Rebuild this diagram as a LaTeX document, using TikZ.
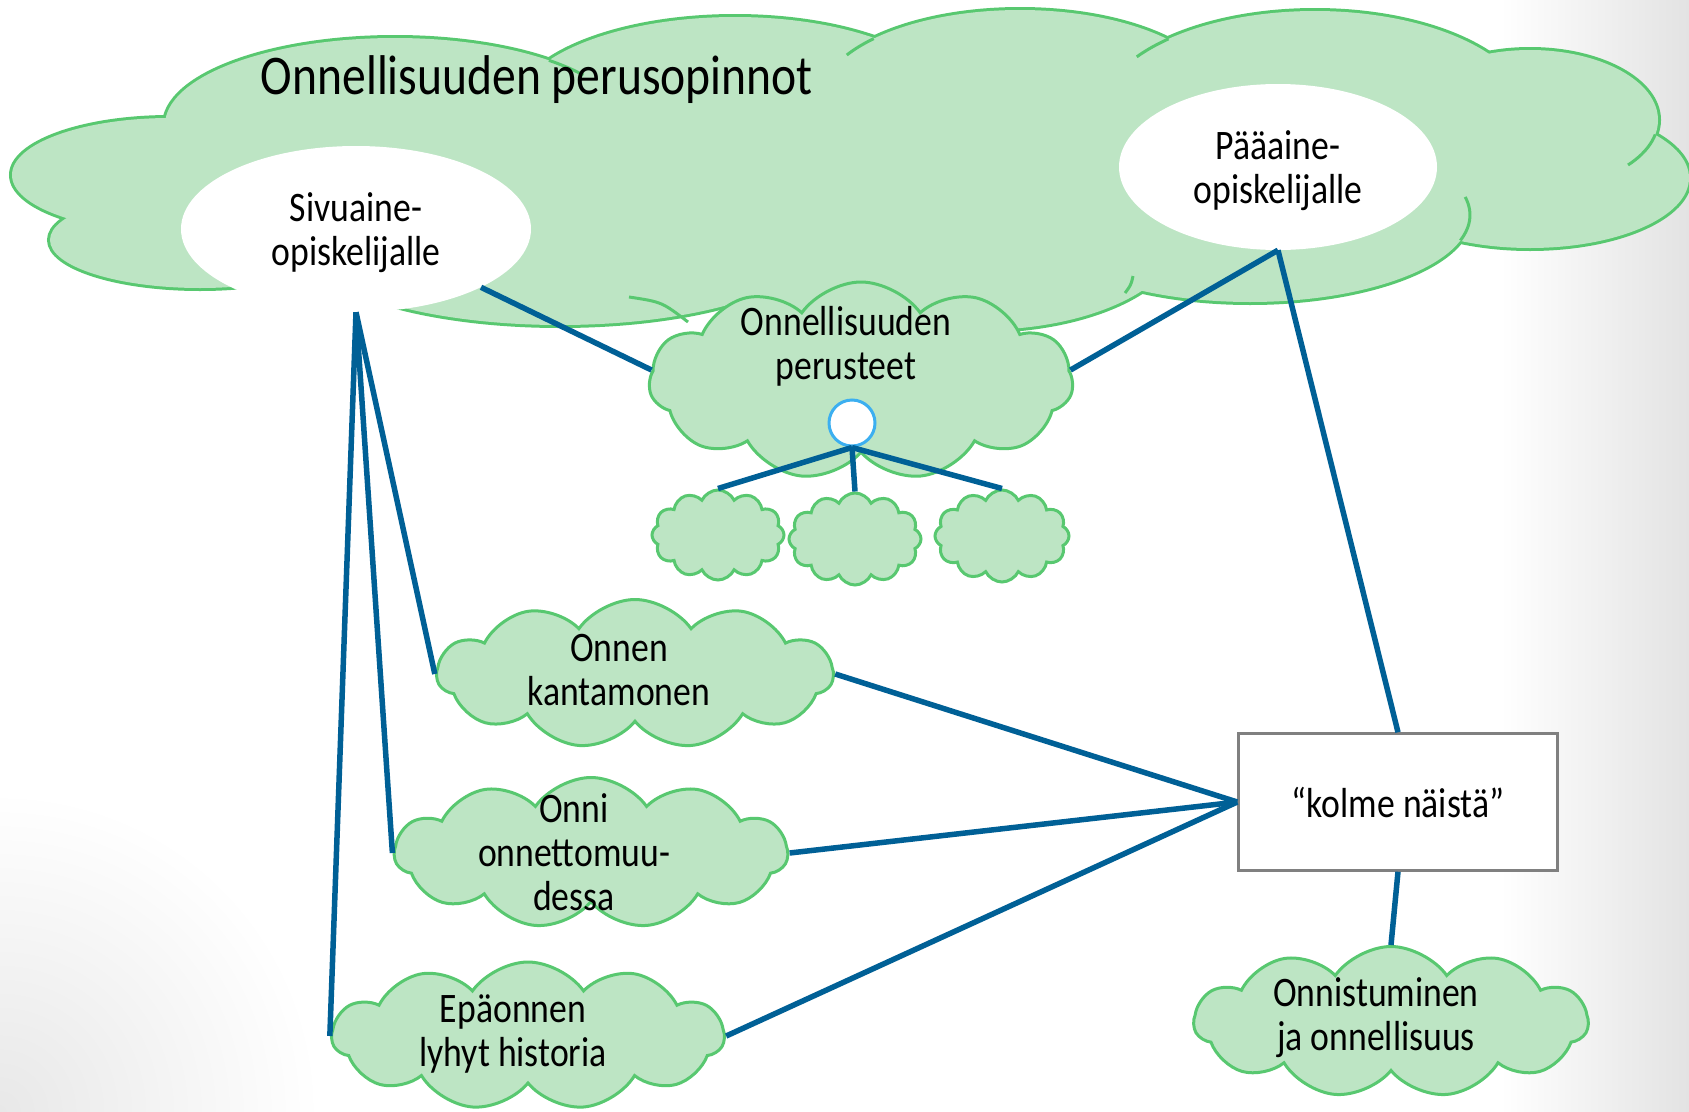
\documentclass[tikz,border=0pt]{standalone}
\usepackage{fontspec}
\setmainfont{Carlito}[FakeStretch=0.85]
\usetikzlibrary{shapes.symbols,shapes.geometric}
\definecolor{cloudfill}{RGB}{189,229,196}
\definecolor{cloudline}{RGB}{88,200,112}
\definecolor{linkblue}{RGB}{0,96,150}
\definecolor{hubline}{RGB}{60,175,240}
\definecolor{boxline}{RGB}{128,128,128}
\newcommand{\bodyfont}{\fontsize{42}{44}\selectfont}
\newcommand{\titlefont}{\fontsize{56}{60}\selectfont}
\tikzset{
  bubble/.style={cloud, cloud puffs=11, cloud puff arc=110, cloud ignores aspect,
    draw=cloudline, fill=cloudfill, line width=3, inner sep=0pt},
  puff/.style={bubble, cloud puffs=12, cloud puff arc=130},
  hole/.style={ellipse, fill=white, inner sep=0pt, font=\bodyfont, align=center, text depth=0pt},
  link/.style={draw=linkblue, line width=5.5},
  words/.style={font=\bodyfont, align=center}
}
\begin{document}
\begin{tikzpicture}[x=1pt,y=-1pt]
  \useasboundingbox (0,0) rectangle (1689,1111);
  %% background
  \fill[white] (0,0) rectangle (1689,1111);
  \shade[left color=white, right color=black!11] (1500,0) rectangle (1689,1111);
  \shade[inner color=black!9, outer color=white] (0,1111) circle (320);
  %% big cloud: every lobe outlined, then all filled
  \def\lobes{395/125/230/87, 735/110/220/93, 1020/100/200/90, 1315/115/215/104,
    1530/120/128/70, 1530/178/159/70, 1250/215/220/87, 980/235/200/95,
    860/240/200/80, 560/240/260/85, 170/175/158/57, 200/240/150/48, 850/170/650/110}
  \foreach \cx/\cy/\rx/\ry in \lobes
    \draw[cloudline, line width=6] (\cx,\cy) ellipse [x radius=\rx, y radius=\ry];
  \foreach \cx/\cy/\rx/\ry in \lobes
    \fill[cloudfill] (\cx,\cy) ellipse [x radius=\rx, y radius=\ry];
  % lobe edges running on inside the big cloud
  \foreach \cx/\cy/\rx/\ry/\ta/\tb in {395/125/230/87/-48/-35, 1315/115/215/104/-133/-146,
    1020/100/200/90/-137/-150, 1530/120/128/70/12/40, 1250/215/220/87/17/-12}
    \draw[cloudline, line width=3] plot[domain=\ta:\tb, samples=12, variable=\t]
      ({\cx+\rx*cos(\t)},{\cy+\ry*sin(\t)});
  \draw[cloudline, line width=3] (629,297) .. controls (662,302) .. (688,322);
  \draw[cloudline, line width=3] (1133,276) .. controls (1131,285) .. (1125,293);
  \node[font=\titlefont, anchor=base] (title) at (537,94) {Onnellisuuden perusopinnot};
  %% white ellipses
  \node[hole, minimum width=350, minimum height=166] (siv) at (356,229) {Sivuaine-\\opiskelijalle};
  \node[hole, minimum width=318, minimum height=166] (paa) at (1278,167) {Pääaine-\\opiskelijalle};
  %% middle cloud and its three small ones
  \node[bubble, minimum width=424, minimum height=198] (perus) at (861,381) {};
  \node[words] at (846,346) {Onnellisuuden\\perusteet};
  \node[circle, draw=hubline, fill=white, line width=3, minimum size=46, inner sep=0pt] (hub) at (852,423) {};
  \node[puff, minimum width=132, minimum height=90] (pikku1) at (718,535) {};
  \node[puff, minimum width=132, minimum height=92] (pikku2) at (855,539) {};
  \node[puff, minimum width=134, minimum height=92] (pikku3) at (1002,536) {};
  %% course clouds
  \node[bubble, minimum width=396, minimum height=149] (kanta) at (635,674) {};
  \node[words] at (619,670) {Onnen\\kantamonen};
  \node[bubble, minimum width=393, minimum height=151] (onni) at (591,853) {};
  \node[words] at (574,852) {Onni\\onnettomuu-\\dessa};
  \node[bubble, minimum width=392, minimum height=148] (epa) at (528,1036) {};
  \node[words] at (513,1034) {Epäonnen\\lyhyt historia};
  \node[bubble, minimum width=394, minimum height=151] (onnis) at (1391,1022) {};
  \node[words] at (1376,1018) {Onnistuminen\\ja onnellisuus};
  \node[draw=boxline, line width=2.5, fill=white, minimum width=319, minimum height=137,
    font=\bodyfont] (kolme) at (1398,802) {“kolme näistä”};
  %% links
  \draw[link] (siv.south) -- (kanta.west);
  \draw[link] (siv.south) -- (onni.west);
  \draw[link] (siv.south) -- (epa.west);
  \draw[link] (siv.-25) -- (perus.177);
  \draw[link] (paa.south) -- (perus.3);
  \draw[link] (paa.south) -- (kolme.north);
  \draw[link] (kolme.west) -- (kanta.east);
  \draw[link] (kolme.west) -- (onni.east);
  \draw[link] (kolme.west) -- (epa.east);
  \draw[link] (kolme.south) -- (onnis.north);
  \draw[link] (hub.south) -- (pikku1.north);
  \draw[link] (hub.south) -- (pikku2.north);
  \draw[link] (hub.south) -- (pikku3.north);
\end{tikzpicture}
\end{document}
